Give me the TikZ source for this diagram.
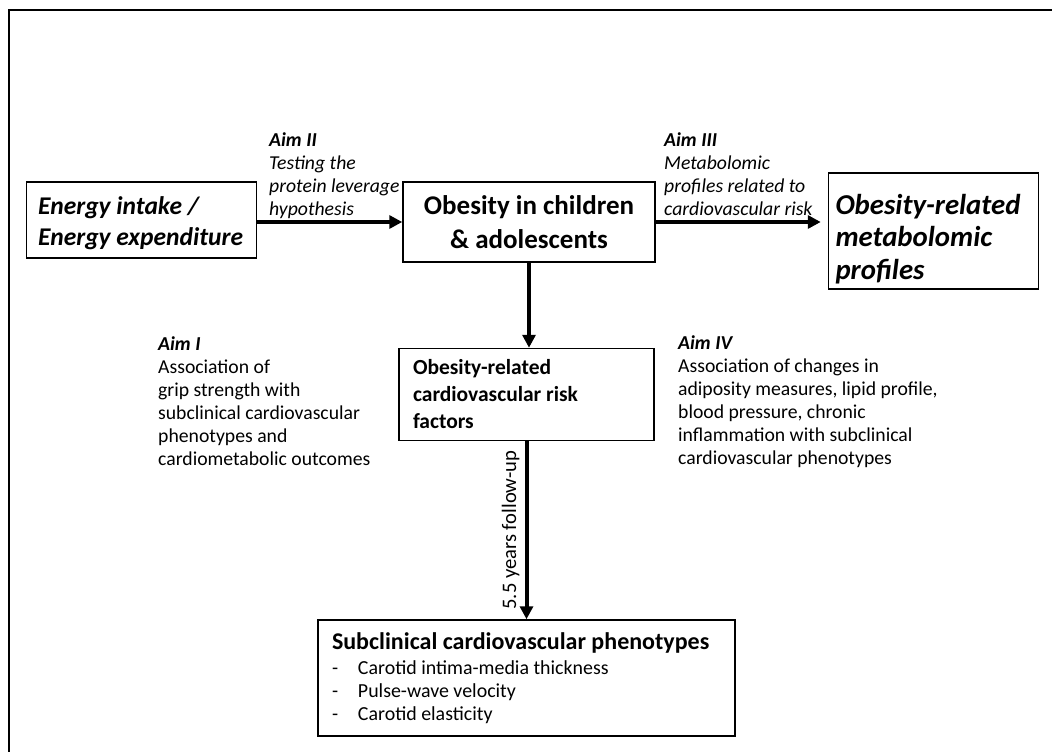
\documentclass[tikz,border=0pt]{standalone}
\usepackage{fontspec}
\setmainfont{Carlito}
\usepackage{tikz}
\usetikzlibrary{positioning,arrows.meta}
\definecolor{inkc}{RGB}{0,0,0}
\newcommand{\aimheadfont}{\bfseries\itshape}
\tikzset{
  stage/.style   = {draw=inkc, line width=1.5pt, inner sep=0pt},
  flow/.style    = {-{Triangle[length=13pt,width=13pt]}, line width=4pt, draw=inkc},
  aim/.style     = {anchor=north west, align=left, inner sep=0pt, font=\fontsize{19.7}{23}\selectfont},
}

\begin{document}
\begin{tikzpicture}[x=1pt, y=-1pt]
\useasboundingbox (0,0) rectangle (1052,752);
\draw[line width=2.6pt, draw=inkc] (9,752) -- (9,10) -- (1052,10);

% ---------- central chain ----------
\node[stage, minimum width=252pt, minimum height=80pt, align=center,
      font=\bfseries\fontsize{27}{34}\selectfont] (obese) at (529,222)
  {Obesity in children\\\& adolescents};
\node[stage, minimum width=230pt, minimum height=76pt, text width=207pt, align=flush left,
      font=\bfseries\itshape\fontsize{25.5}{31}\selectfont, left=145pt of obese.west, yshift=2pt] (energy)
  {\rule{0pt}{24pt}Energy intake /\\Energy expenditure};
\node[stage, minimum width=210pt, minimum height=116pt, text width=196pt, align=flush left,
      font=\bfseries\itshape\fontsize{28.8}{32.5}\selectfont, right=172pt of obese.east, yshift=-9pt] (metab)
  {\rule{0pt}{36pt}Obesity-related\\metabolomic\\profiles};
\node[stage, minimum width=255pt, minimum height=92pt, text width=227pt, align=flush left,
      font=\bfseries\fontsize{21.5}{27}\selectfont, below=85pt of obese, xshift=-2.5pt] (risk)
  {Obesity-related\\cardiovascular risk\\factors};
\node[stage, minimum width=417pt, minimum height=116pt, text width=389pt, align=flush left,
      font=\fontsize{19.9}{23}\selectfont, below=178pt of risk] (pheno)
  {{\bfseries\fontsize{24}{26}\selectfont Subclinical cardiovascular phenotypes}\\[2pt]
   \makebox[26pt][l]{-}Carotid intima-media thickness\\
   \makebox[26pt][l]{-}Pulse-wave velocity\\
   \makebox[26pt][l]{-}Carotid elasticity};

\draw[flow] (energy.east |- obese.west) -- (obese.west);
\draw[flow] (obese.east) -- ([xshift=-7pt]obese.east -| metab.west);
\draw[flow] (obese.south) -- (obese.south |- risk.north);
\draw[flow] (risk.south) -- (risk.south |- pheno.north)
  node[midway, rotate=90, anchor=south, inner sep=5pt, font=\fontsize{20.6}{24}\selectfont] (fup) {5.5 years follow-up};

% ---------- aims ----------
\node[aim, font=\itshape\fontsize{19.7}{23}\selectfont] (aim2) at (269,132)
  {{\bfseries Aim II}\\Testing the\\protein leverage\\hypothesis};
\node[aim, font=\itshape\fontsize{19.7}{23}\selectfont] (aim3) at (664,132)
  {{\bfseries Aim III}\\Metabolomic\\profiles related to\\cardiovascular risk};
\node[aim] (aim1) at (158,336)
  {{\aimheadfont Aim I}\\Association of\\grip strength with\\subclinical cardiovascular\\phenotypes and\\cardiometabolic outcomes};
\node[aim] (aim4) at (678,335)
  {{\aimheadfont Aim IV}\\Association of changes in\\adiposity measures, lipid profile,\\blood pressure, chronic\\inflammation with subclinical\\cardiovascular phenotypes};

\end{tikzpicture}
\end{document}
